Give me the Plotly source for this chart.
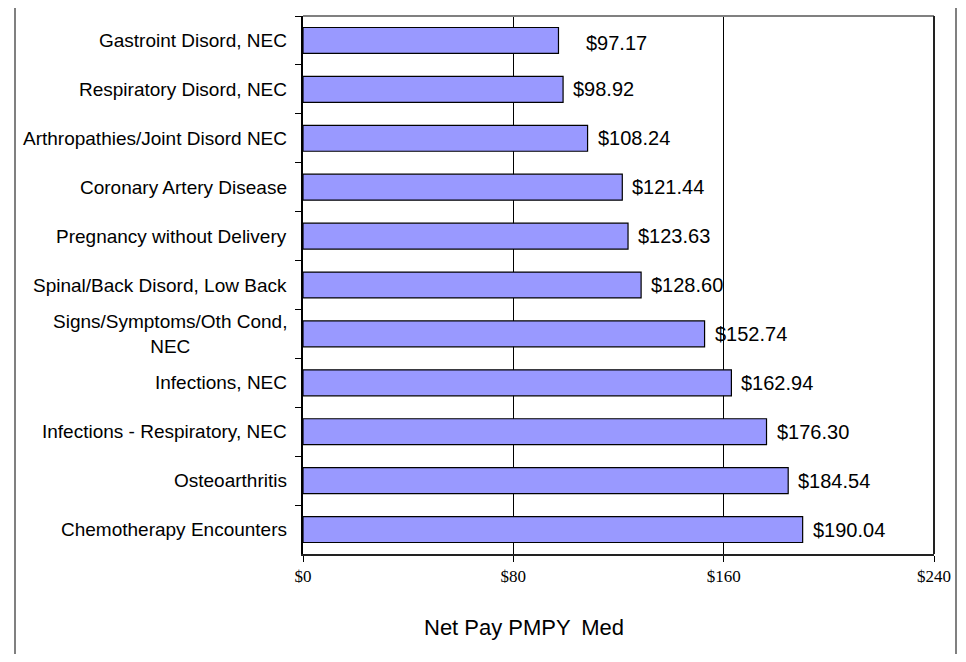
import plotly.graph_objects as go

categories = [
    "Gastroint Disord, NEC",
    "Respiratory Disord, NEC",
    "Arthropathies/Joint Disord NEC",
    "Coronary Artery Disease",
    "Pregnancy without Delivery",
    "Spinal/Back Disord, Low Back",
    "Signs/Symptoms/Oth Cond,<br>NEC",
    "Infections, NEC",
    "Infections - Respiratory, NEC",
    "Osteoarthritis",
    "Chemotherapy Encounters",
]
values = [97.17, 98.92, 108.24, 121.44, 123.63, 128.60, 152.74, 162.94, 176.30, 184.54, 190.04]
x_tick_vals = [0, 80, 160, 240]
x_tick_text = ["$0", "$80", "$160", "$240"]
axis_title = "Net Pay PMPY\u2009 Med"

# page body has an 8px margin; work in page pixels and convert
OFF = 8
W, H = 966 - 2 * OFF, 662 - 2 * OFF
PL, PR, PT, PB = 303, 934, 16, 554  # plot area in page pixels
L, T = PL - OFF, PT - OFF
R = W - (PR - OFF)
B = H - (PB - OFF)
pw, ph = PR - PL, PB - PT

def px_x(p):
    return (p - PL) / pw

def px_y(p):
    return (PB - p) / ph

fig = go.Figure()
fig.add_trace(go.Bar(
    y=categories, x=values, orientation="h",
    width=0.53,
    marker=dict(color="#9999FF", line=dict(color="#000000", width=1.2)),
    hoverinfo="skip",
))

annotations = []
for i, (c, v) in enumerate(zip(categories, values)):
    annotations.append(dict(
        x=0, xref="paper", y=c, yref="y", text=c, showarrow=False,
        xanchor="right", yanchor="middle", align="center", xshift=-14,
        font=dict(family="Liberation Sans, Arial", size=19, color="#000000"),
    ))
    shift = 26 if i == 0 else 8
    annotations.append(dict(
        x=v, xref="x", y=c, yref="y", text="${:.2f}".format(v), showarrow=False,
        xanchor="left", yanchor="middle", xshift=shift, yshift=-3 if i == 0 else 0,
        font=dict(family="Liberation Sans, Arial", size=20, color="#000000"),
    ))
annotations.append(dict(
    x=px_x(524), xref="paper", y=px_y(628), yref="paper", text=axis_title,
    showarrow=False, xanchor="center", yanchor="middle",
    font=dict(family="Liberation Sans, Arial", size=22, color="#000000"),
))

shapes = [
    dict(type="line", xref="paper", yref="paper", x0=px_x(15), x1=px_x(15),
         y0=px_y(OFF), y1=px_y(OFF + H), line=dict(color="#808080", width=2)),
    dict(type="line", xref="paper", yref="paper", x0=px_x(956), x1=px_x(956),
         y0=px_y(OFF), y1=px_y(OFF + H), line=dict(color="#808080", width=2)),
    dict(type="line", xref="paper", yref="paper", x0=0, x1=1, y0=1, y1=1,
         line=dict(color="#808080", width=2)),
    dict(type="line", xref="paper", yref="paper", x0=1, x1=1, y0=0, y1=1,
         line=dict(color="#222222", width=2)),
]

fig.update_layout(
    width=W, height=H,
    margin=dict(l=L, r=R, t=T, b=B),
    paper_bgcolor="white", plot_bgcolor="white",
    showlegend=False,
    annotations=annotations,
    shapes=shapes,
    xaxis=dict(
        range=[0, 240], tickvals=x_tick_vals, ticktext=x_tick_text,
        showgrid=True, gridcolor="#000000", gridwidth=1,
        showline=True, linecolor="#222222", linewidth=2,
        ticks="outside", ticklen=6, tickcolor="#000000",
        tickfont=dict(family="Liberation Serif, Times New Roman", size=17, color="#000000"),
        zeroline=False, fixedrange=True,
    ),
    yaxis=dict(
        type="category", categoryorder="array", categoryarray=categories,
        autorange="reversed",
        showticklabels=False, showgrid=False,
        showline=True, linecolor="#000000", linewidth=1.5,
        ticks="outside", ticklen=6, tickcolor="#000000", tickson="boundaries",
        zeroline=False, fixedrange=True,
    ),
)

fig.write_html("out.html")
